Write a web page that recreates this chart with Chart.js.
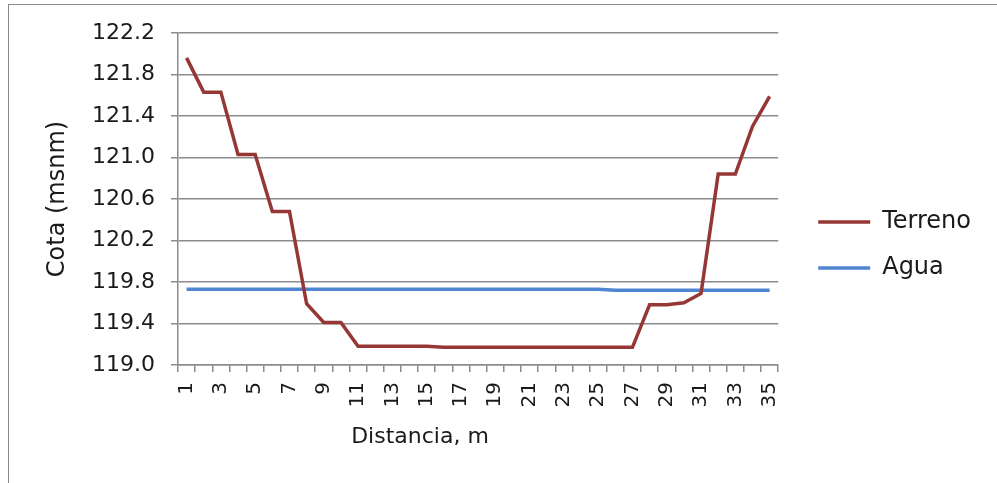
<!DOCTYPE html>
<html>
<head>
<meta charset="utf-8">
<script src="https://cdn.jsdelivr.net/npm/chart.js@4"></script>
<style>
  html, body { margin: 0; padding: 0; width: 997px; height: 483px; overflow: hidden; background: #fff; }
  .frame { position: absolute; left: 8px; top: 4px; width: 1100px; height: 600px; border: 1px solid #8a8a8a; }
  .wrap { position: absolute; left: 0; top: 0; width: 997px; height: 483px; }
</style>
</head>
<body>
<div class="frame"></div>
<div class="wrap"><canvas id="chart" width="997" height="483"></canvas></div>
<script>
const distancias = ['1', '2', '3', '4', '5', '6', '7', '8', '9', '10', '11', '12', '13', '14', '15', '16', '17', '18',
  '19', '20', '21', '22', '23', '24', '25', '26', '27', '28', '29', '30', '31', '32', '33', '34', '35'];

const terreno = [121.96, 121.63, 121.63, 121.03, 121.03, 120.48, 120.48, 119.59, 119.41, 119.41,
  119.18, 119.18, 119.18, 119.18, 119.18, 119.17, 119.17, 119.17, 119.17, 119.17,
  119.17, 119.17, 119.17, 119.17, 119.17, 119.17, 119.17, 119.58, 119.58, 119.60,
  119.69, 120.84, 120.84, 121.30, 121.59];

const agua = [119.73, 119.73, 119.73, 119.73, 119.73, 119.73, 119.73, 119.73, 119.73, 119.73,
  119.73, 119.73, 119.73, 119.73, 119.73, 119.73, 119.73, 119.73, 119.73, 119.73,
  119.73, 119.73, 119.73, 119.73, 119.73, 119.72, 119.72, 119.72, 119.72, 119.72,
  119.72, 119.72, 119.72, 119.72, 119.72];

const yMin = 119.0;
const yMax = 122.2;
const yStep = 0.4;

const yTitle = 'Cota (msnm)';
const xTitle = 'Distancia, m';

const FONT = '"DejaVu Sans", "Open Sans", sans-serif';
const TEXT = '#1a1a1a';
const GRID = '#8c8c8c';

// x axis title sits left of centre in the original, so draw it by hand
const xTitlePlugin = {
  id: 'xTitle',
  afterDraw(chart) {
    const { ctx, chartArea } = chart;
    ctx.save();
    ctx.font = `22px ${FONT}`;
    ctx.fillStyle = TEXT;
    ctx.textAlign = 'center';
    ctx.textBaseline = 'middle';
    ctx.fillText(xTitle, chartArea.left + 242, chartArea.bottom + 72);
    ctx.restore();
  }
};

new Chart(document.getElementById('chart'), {
  type: 'line',
  data: {
    labels: distancias,
    datasets: [
      {
        label: 'Terreno',
        data: terreno,
        borderColor: '#953735',
        backgroundColor: '#953735',
        borderWidth: 3.5,
        pointRadius: 0,
        tension: 0,
        xAxisID: 'x',
        yAxisID: 'y'
      },
      {
        label: 'Agua',
        data: agua,
        borderColor: '#4f86d1',
        backgroundColor: '#4f86d1',
        borderWidth: 3.5,
        pointRadius: 0,
        tension: 0,
        xAxisID: 'x',
        yAxisID: 'y'
      }
    ]
  },
  options: {
    responsive: false,
    animation: false,
    devicePixelRatio: 1,
    layout: { padding: { left: 36, top: 33, right: 16, bottom: 26 } },
    plugins: {
      tooltip: { enabled: false },
      legend: {
        position: 'right',
        maxWidth: 260,
        labels: {
          usePointStyle: true,
          pointStyle: 'line',
          pointStyleWidth: 52,
          padding: 22,
          color: TEXT,
          font: { family: FONT, size: 24 }
        }
      }
    },
    scales: {
      x: {
        type: 'category',
        offset: true,
        afterFit: (scale) => { scale.height = 92; },
        grid: { offset: true, drawOnChartArea: false, drawTicks: true, tickLength: 7, color: GRID, lineWidth: 1.5 },
        border: { color: GRID, width: 1.5 },
        ticks: {
          autoSkip: false,
          minRotation: 90,
          maxRotation: 90,
          padding: 10,
          color: TEXT,
          font: { family: FONT, size: 20 },
          callback: (value, index) => (index % 2 === 0 ? distancias[index] : '')
        }
      },
      y: {
        type: 'linear',
        position: 'left',
        min: yMin,
        max: yMax,
        afterFit: (scale) => { scale.width = 142; },
        grid: { color: GRID, lineWidth: 1.5, tickLength: 7 },
        border: { color: GRID, width: 1.5 },
        ticks: {
          stepSize: yStep,
          padding: 16,
          color: TEXT,
          font: { family: FONT, size: 22 },
          callback: (value) => Number(value).toFixed(1)
        },
        title: {
          display: true,
          text: yTitle,
          color: TEXT,
          padding: { top: 7, bottom: 0 },
          font: { family: FONT, size: 24 }
        }
      },
      gap: {
        type: 'linear',
        position: 'right',
        afterFit: (scale) => { scale.width = 18; },
        grid: { display: false },
        border: { display: false },
        ticks: { display: false }
      }
    }
  },
  plugins: [xTitlePlugin]
});
</script>
</body>
</html>
